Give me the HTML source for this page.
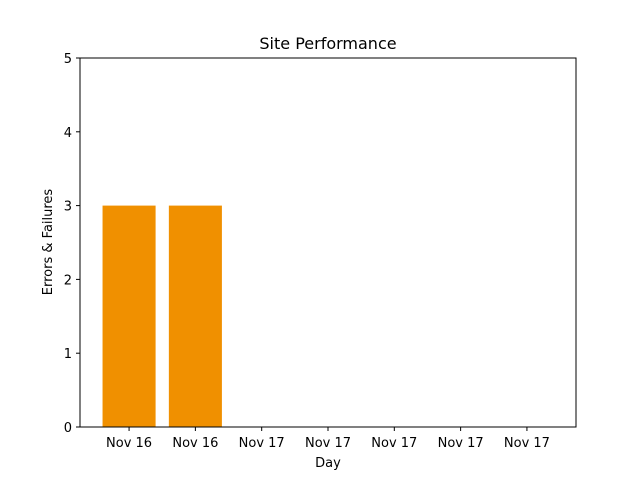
<!DOCTYPE html>
<html><head><meta charset="utf-8"><style>
body{margin:0;background:#fff;}
svg text{font-family:"DejaVu Sans","Liberation Sans",sans-serif;fill:#000;}
</style></head><body>
<svg id="chart" width="640" height="480">
<rect width="640" height="480" fill="#fff"/>
<text x="328" y="49" font-size="16" text-anchor="middle">Site Performance</text>
<g id="bars"></g>
<g id="xticks"></g>
<g id="yticks"></g>
<rect x="80" y="58" width="496" height="369" fill="none" stroke="#000" stroke-width="1"/>
<text x="328" y="467" font-size="13" text-anchor="middle">Day</text>
<text transform="translate(52,242) rotate(-90)" font-size="13" text-anchor="middle">Errors &amp; Failures</text>
</svg>
<script>
const categories=["Nov 16","Nov 16","Nov 17","Nov 17","Nov 17","Nov 17","Nov 17"];
const values=[3,3,0,0,0,0,0];
const yTicks=[0,1,2,3,4,5];
const L=80,R=576,T=58,B=427;
const xmin=-0.74,xmax=categories.length-1+0.74;
const x=v=>L+(v-xmin)/(xmax-xmin)*(R-L);
const y=v=>B-(v-0)/(5-0)*(B-T);
const ns="http://www.w3.org/2000/svg";
const bars=document.getElementById('bars'),xt=document.getElementById('xticks'),yt=document.getElementById('yticks');
function mk(tag,attrs,parent){const e=document.createElementNS(ns,tag);for(const k in attrs)e.setAttribute(k,attrs[k]);parent.appendChild(e);return e;}
values.forEach((v,i)=>{
  const r=mk('rect',{x:x(i-0.4),y:y(v),width:x(i+0.4)-x(i-0.4),height:y(0)-y(v),fill:'#f09000'},bars);
  
  
});
categories.forEach((c,i)=>{
  mk('line',{x1:x(i),x2:x(i),y1:B,y2:B+4,stroke:'#000'},xt);
  const t=mk('text',{x:x(i),y:B+20,'font-size':13,'text-anchor':'middle'},xt);
  t.textContent=c;
  
  
});
yTicks.forEach(v=>{
  mk('line',{x1:L-4,x2:L,y1:y(v),y2:y(v),stroke:'#000'},yt);
  const t=mk('text',{x:L-8,y:y(v)+5,'font-size':13,'text-anchor':'end'},yt);
  t.textContent=v;
  
  
});
</script>
</body></html>
